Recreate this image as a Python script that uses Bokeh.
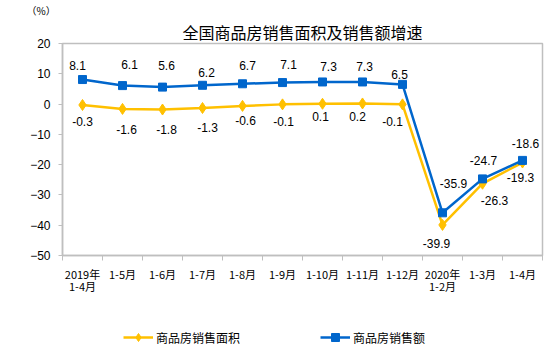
from bokeh.plotting import figure
from bokeh.layouts import column
from bokeh.models import (ColumnDataSource, FixedTicker, Title, Legend, LegendItem, Range1d)
from bokeh.core.properties import value
from bokeh.embed import file_html
from bokeh.resources import INLINE

# ---- data ----
categories = ["2019年\n1-4月", "1-5月", "1-6月", "1-7月", "1-8月", "1-9月", "1-10月",
              "1-11月", "1-12月", "2020年\n1-2月", "1-3月", "1-4月"]
area_growth = [-0.3, -1.6, -1.8, -1.3, -0.6, -0.1, 0.1, 0.2, -0.1, -39.9, -26.3, -19.3]
amount_growth = [8.1, 6.1, 5.6, 6.2, 6.7, 7.1, 7.3, 7.3, 6.5, -35.9, -24.7, -18.6]
y_ticks = [-50, -40, -30, -20, -10, 0, 10, 20]
series_names = ["商品房销售面积", "商品房销售额"]
title_text = "全国商品房销售面积及销售额增速"
unit_text = "（%）"

# label placement (screen px, styling only)
area_dx = [0, 4, 4, 5, 3, 1, -2, -5, -10, -6, 12, -2]
area_dy = [17, 21, 20, 19, 15, 17, 13, 13, 17, 19, 17, 15]
amount_dx = [-5, 7, 4, 4, 5, 6, 6, 2, -3, 11, 1, 3]
amount_dy = [-14, -21, -22, -13, -18, -18, -15, -15, -10, -29, -18, -17]

YELLOW = "#FFC000"
BLUE = "#0066CC"
GRAY = "#BFBFBF"

xs = list(range(len(categories)))
src = ColumnDataSource(dict(
    x=xs, area=area_growth, amount=amount_growth,
    area_txt=[f"{v:.1f}" for v in area_growth],
    amount_txt=[f"{v:.1f}" for v in amount_growth],
    adx=area_dx, ady=area_dy, mdx=amount_dx, mdy=amount_dy,
))

p = figure(width=546, height=305, output_backend="svg", toolbar_location=None,
           x_range=(-0.5, len(categories) - 0.5), y_range=(min(y_ticks), max(y_ticks)),
           min_border_left=62, min_border_right=4, min_border_top=40, min_border_bottom=50)
p.title = Title(text=unit_text, align="left", offset=-36, standoff=0, text_line_height=0.7,
                text_font="Noto Sans CJK SC", text_font_size="10px",
                text_font_style="normal", text_color="#000000")
p.add_layout(Title(text=title_text, align="center", standoff=0, text_line_height=0.8,
                   text_font="Noto Sans CJK SC", text_font_size="16px",
                   text_font_style="normal", text_color="#000000"), "above")
p.xgrid.grid_line_color = None
p.ygrid.grid_line_color = None
p.outline_line_color = GRAY
p.outline_line_width = 1.5

# x axis
p.xaxis.ticker = FixedTicker(ticks=xs, minor_ticks=[i + 0.5 for i in range(-1, len(categories))])
p.xaxis.major_label_overrides = {i: c for i, c in enumerate(categories)}
p.xaxis.axis_line_color = GRAY
p.xaxis.axis_line_width = 1.5
p.xaxis.major_tick_line_color = None
p.xaxis.major_tick_out = 0
p.xaxis.major_tick_in = 0
p.xaxis.minor_tick_line_color = GRAY
p.xaxis.minor_tick_out = 5
p.xaxis.minor_tick_in = 0
p.xaxis.major_label_standoff = 5
p.xaxis.major_label_text_line_height = 0.8
p.xaxis.major_label_text_font = "Noto Sans CJK SC"
p.xaxis.major_label_text_font_size = "11px"
p.xaxis.major_label_text_color = "#000000"

# y axis
p.yaxis.ticker = FixedTicker(ticks=y_ticks)
p.yaxis.axis_line_color = GRAY
p.yaxis.axis_line_width = 1.5
p.yaxis.major_tick_line_color = GRAY
p.yaxis.major_tick_out = 4
p.yaxis.major_tick_in = 0
p.yaxis.minor_tick_line_color = None
p.yaxis.major_label_standoff = 8
p.yaxis.major_label_text_font = "Liberation Sans"
p.yaxis.major_label_text_font_size = "12px"
p.yaxis.major_label_text_color = "#000000"

# series
p.line("x", "area", source=src, line_color=YELLOW, line_width=2.5)
p.scatter("x", "area", source=src, marker="diamond", size=11, fill_color=YELLOW, line_color=YELLOW)
p.line("x", "amount", source=src, line_color=BLUE, line_width=2.5)
p.scatter("x", "amount", source=src, marker="square", size=8, fill_color=BLUE, line_color=BLUE)

p.text("x", "area", text="area_txt", source=src, x_offset="adx", y_offset="ady",
       text_align="center", text_baseline="middle", text_font=value("Liberation Sans"),
       text_font_size="12px", text_color="#000000")
p.text("x", "amount", text="amount_txt", source=src, x_offset="mdx", y_offset="mdy",
       text_align="center", text_baseline="middle", text_font=value("Liberation Sans"),
       text_font_size="12px", text_color="#000000")

# legend strip: same series in a small figure whose view range shows none of them
q = figure(width=546, height=45, output_backend="svg", toolbar_location=None,
           x_range=Range1d(1000, 1001), y_range=Range1d(1000, 1001),
           min_border=0, min_border_left=0, min_border_right=0,
           min_border_top=0, min_border_bottom=0)
q.axis.visible = False
q.xgrid.grid_line_color = None
q.ygrid.grid_line_color = None
q.outline_line_color = None
k1 = q.line("x", "area", source=src, line_color=YELLOW, line_width=2.5)
k1m = q.scatter("x", "area", source=src, marker="diamond", size=9, fill_color=YELLOW, line_color=YELLOW)
k2 = q.line("x", "amount", source=src, line_color=BLUE, line_width=2.5)
k2m = q.scatter("x", "amount", source=src, marker="square", size=7, fill_color=BLUE, line_color=BLUE)
legend = Legend(items=[LegendItem(label=series_names[0], renderers=[k1, k1m]),
                       LegendItem(label=series_names[1], renderers=[k2, k2m])],
                location=(61, 3), orientation="horizontal",
                padding=0, margin=0, spacing=80, glyph_width=30, glyph_height=20,
                label_standoff=3, label_text_font="Noto Sans CJK SC",
                label_text_font_size="12px", label_text_color="#000000",
                border_line_color=None, background_fill_alpha=0)
q.add_layout(legend, "center")

open("out.html", "w").write(file_html(column(p, q, spacing=0), INLINE))
